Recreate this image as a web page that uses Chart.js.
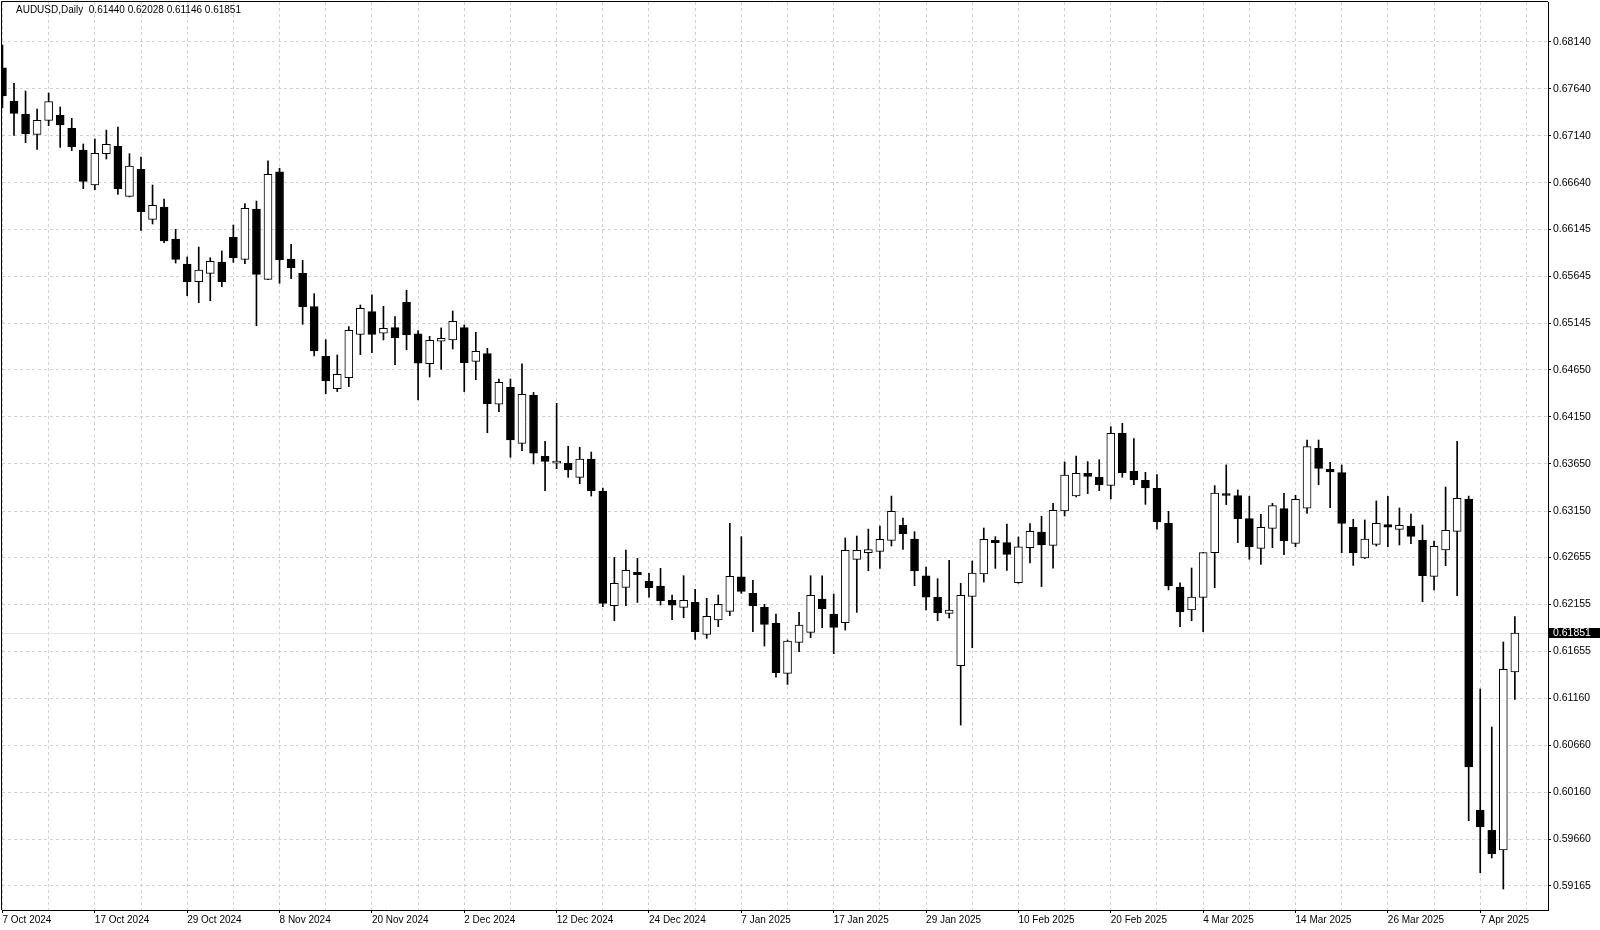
<!DOCTYPE html>
<html>
<head>
<meta charset="utf-8">
<title>AUDUSD, Daily</title>
<script src="https://cdn.jsdelivr.net/npm/chart.js@4.4.1/dist/chart.umd.min.js"></script>
<style>
    html, body { margin: 0; padding: 0; background: #fff; }
    #wrap { width: 1600px; height: 930px; }
</style>
</head>
<body>
<div id="wrap"><canvas id="chart" width="1600" height="930"></canvas></div>
<script>
// AUDUSD daily candles, 7 Oct 2024 - 10 Apr 2025
const symbol = "AUDUSD,Daily";

const dates = [
    "7 Oct 2024", "8 Oct 2024", "9 Oct 2024", "10 Oct 2024", "11 Oct 2024", "14 Oct 2024", "15 Oct 2024", "16 Oct 2024",
    "17 Oct 2024", "18 Oct 2024", "21 Oct 2024", "22 Oct 2024", "23 Oct 2024", "24 Oct 2024", "25 Oct 2024", "28 Oct 2024",
    "29 Oct 2024", "30 Oct 2024", "31 Oct 2024", "1 Nov 2024", "4 Nov 2024", "5 Nov 2024", "6 Nov 2024", "7 Nov 2024",
    "8 Nov 2024", "11 Nov 2024", "12 Nov 2024", "13 Nov 2024", "14 Nov 2024", "15 Nov 2024", "18 Nov 2024", "19 Nov 2024",
    "20 Nov 2024", "21 Nov 2024", "22 Nov 2024", "25 Nov 2024", "26 Nov 2024", "27 Nov 2024", "28 Nov 2024", "29 Nov 2024",
    "2 Dec 2024", "3 Dec 2024", "4 Dec 2024", "5 Dec 2024", "6 Dec 2024", "9 Dec 2024", "10 Dec 2024", "11 Dec 2024",
    "12 Dec 2024", "13 Dec 2024", "16 Dec 2024", "17 Dec 2024", "18 Dec 2024", "19 Dec 2024", "20 Dec 2024", "23 Dec 2024",
    "24 Dec 2024", "26 Dec 2024", "27 Dec 2024", "30 Dec 2024", "31 Dec 2024", "2 Jan 2025", "3 Jan 2025", "6 Jan 2025",
    "7 Jan 2025", "8 Jan 2025", "9 Jan 2025", "10 Jan 2025", "13 Jan 2025", "14 Jan 2025", "15 Jan 2025", "16 Jan 2025",
    "17 Jan 2025", "20 Jan 2025", "21 Jan 2025", "22 Jan 2025", "23 Jan 2025", "24 Jan 2025", "27 Jan 2025", "28 Jan 2025",
    "29 Jan 2025", "30 Jan 2025", "31 Jan 2025", "3 Feb 2025", "4 Feb 2025", "5 Feb 2025", "6 Feb 2025", "7 Feb 2025",
    "10 Feb 2025", "11 Feb 2025", "12 Feb 2025", "13 Feb 2025", "14 Feb 2025", "17 Feb 2025", "18 Feb 2025", "19 Feb 2025",
    "20 Feb 2025", "21 Feb 2025", "24 Feb 2025", "25 Feb 2025", "26 Feb 2025", "27 Feb 2025", "28 Feb 2025", "3 Mar 2025",
    "4 Mar 2025", "5 Mar 2025", "6 Mar 2025", "7 Mar 2025", "10 Mar 2025", "11 Mar 2025", "12 Mar 2025", "13 Mar 2025",
    "14 Mar 2025", "17 Mar 2025", "18 Mar 2025", "19 Mar 2025", "20 Mar 2025", "21 Mar 2025", "24 Mar 2025", "25 Mar 2025",
    "26 Mar 2025", "27 Mar 2025", "28 Mar 2025", "31 Mar 2025", "1 Apr 2025", "2 Apr 2025", "3 Apr 2025", "4 Apr 2025",
    "7 Apr 2025", "8 Apr 2025", "9 Apr 2025", "10 Apr 2025"
];

const open = [
    0.67864, 0.67510, 0.67368, 0.67155, 0.67304, 0.67357, 0.67219, 0.66989, 0.66617, 0.66950,
    0.67028, 0.66496, 0.66783, 0.66251, 0.66383, 0.66042, 0.65776, 0.65589, 0.65677, 0.65798,
    0.66060, 0.65826, 0.66361, 0.65614, 0.66756, 0.65830, 0.65678, 0.65324, 0.64795, 0.64451,
    0.64568, 0.65029, 0.65270, 0.65040, 0.65100, 0.65370, 0.65033, 0.64717, 0.64955, 0.64969,
    0.65100, 0.64742, 0.64824, 0.64285, 0.64466, 0.63870, 0.64381, 0.63731, 0.63660, 0.63657,
    0.63508, 0.63703, 0.63362, 0.62143, 0.62338, 0.62498, 0.62402, 0.62352, 0.62200, 0.62125,
    0.62178, 0.61838, 0.61991, 0.62083, 0.62451, 0.62274, 0.62125, 0.61955, 0.61423, 0.61753,
    0.61860, 0.62214, 0.62055, 0.61962, 0.62636, 0.62707, 0.62721, 0.62838, 0.62997, 0.62852,
    0.62462, 0.62232, 0.62062, 0.61505, 0.62242, 0.62480, 0.62838, 0.62813, 0.62388, 0.62761,
    0.62927, 0.62785, 0.63151, 0.63310, 0.63551, 0.63509, 0.63423, 0.63977, 0.63572, 0.63477,
    0.63392, 0.63019, 0.62342, 0.62098, 0.62232, 0.62707, 0.63335, 0.63314, 0.63069, 0.62753,
    0.62966, 0.63175, 0.62806, 0.63179, 0.63817, 0.63593, 0.63558, 0.62977, 0.62650, 0.62796,
    0.63005, 0.62955, 0.62991, 0.62838, 0.62455, 0.62735, 0.62934, 0.63278, 0.59970, 0.59754,
    0.59545, 0.61440
];

const high = [
    0.68106, 0.67698, 0.67616, 0.67425, 0.67595, 0.67446, 0.67326, 0.67053, 0.67106, 0.67201,
    0.67233, 0.66950, 0.66914, 0.66617, 0.66468, 0.66145, 0.65851, 0.65957, 0.65844, 0.65915,
    0.66191, 0.66418, 0.66446, 0.66873, 0.66795, 0.65986, 0.65816, 0.65462, 0.64972, 0.64809,
    0.65111, 0.65341, 0.65448, 0.65327, 0.65217, 0.65497, 0.65068, 0.65008, 0.65097, 0.65277,
    0.65129, 0.65050, 0.64880, 0.64554, 0.64554, 0.64714, 0.64412, 0.63891, 0.64295, 0.63838,
    0.63827, 0.63777, 0.63394, 0.62657, 0.62735, 0.62646, 0.62487, 0.62540, 0.62256, 0.62462,
    0.62317, 0.62221, 0.62256, 0.63019, 0.62877, 0.62412, 0.62157, 0.62055, 0.61778, 0.62072,
    0.62462, 0.62462, 0.62267, 0.62863, 0.62884, 0.62958, 0.62990, 0.63309, 0.63075, 0.62930,
    0.62554, 0.62430, 0.62625, 0.62381, 0.62618, 0.62969, 0.62877, 0.63012, 0.62874, 0.63016,
    0.63094, 0.63232, 0.63672, 0.63735, 0.63675, 0.63696, 0.64047, 0.64083, 0.63920, 0.63562,
    0.63537, 0.63147, 0.62385, 0.62544, 0.62710, 0.63420, 0.63640, 0.63374, 0.63307, 0.63115,
    0.63232, 0.63338, 0.63317, 0.63905, 0.63905, 0.63668, 0.63639, 0.63062, 0.63055, 0.63257,
    0.63306, 0.63182, 0.63118, 0.63001, 0.62831, 0.63405, 0.63891, 0.63310, 0.61257, 0.60853,
    0.61757, 0.62028
];

const low = [
    0.67436, 0.67145, 0.67067, 0.66996, 0.67248, 0.67017, 0.66982, 0.66578, 0.66567, 0.66893,
    0.66517, 0.66490, 0.66134, 0.66202, 0.66003, 0.65787, 0.65440, 0.65365, 0.65386, 0.65535,
    0.65794, 0.65780, 0.65121, 0.65610, 0.65572, 0.65621, 0.65136, 0.64799, 0.64398, 0.64420,
    0.64473, 0.64813, 0.64834, 0.64969, 0.64707, 0.64866, 0.64331, 0.64575, 0.64657, 0.64873,
    0.64420, 0.64547, 0.63983, 0.64207, 0.63721, 0.63792, 0.63650, 0.63366, 0.63600, 0.63508,
    0.63441, 0.63309, 0.62132, 0.61984, 0.62143, 0.62178, 0.62235, 0.62150, 0.61994, 0.62015,
    0.61785, 0.61796, 0.61920, 0.62037, 0.62274, 0.61866, 0.61714, 0.61384, 0.61306, 0.61654,
    0.61803, 0.61909, 0.61633, 0.61884, 0.62072, 0.62515, 0.62540, 0.62778, 0.62742, 0.62356,
    0.62097, 0.61984, 0.62012, 0.60874, 0.61696, 0.62395, 0.62540, 0.62519, 0.62381, 0.62597,
    0.62346, 0.62541, 0.63097, 0.63300, 0.63335, 0.63367, 0.63278, 0.63509, 0.63431, 0.63221,
    0.62956, 0.62310, 0.61920, 0.61984, 0.61867, 0.62335, 0.63218, 0.62814, 0.62637, 0.62583,
    0.62760, 0.62686, 0.62771, 0.63125, 0.63430, 0.63186, 0.62707, 0.62572, 0.62645, 0.62778,
    0.62771, 0.62789, 0.62803, 0.62186, 0.62310, 0.62569, 0.62250, 0.59857, 0.59304, 0.59460,
    0.59130, 0.61146
];

const close = [
    0.67563, 0.67379, 0.67162, 0.67304, 0.67503, 0.67255, 0.67024, 0.66656, 0.66953, 0.67049,
    0.66578, 0.66819, 0.66333, 0.66400, 0.66021, 0.65826, 0.65589, 0.65713, 0.65805, 0.65589,
    0.65844, 0.66368, 0.65667, 0.66731, 0.65820, 0.65738, 0.65324, 0.64852, 0.64533, 0.64604,
    0.65072, 0.65306, 0.65029, 0.65093, 0.64990, 0.65022, 0.64721, 0.64965, 0.64987, 0.65168,
    0.64728, 0.64849, 0.64292, 0.64519, 0.63906, 0.64391, 0.63764, 0.63678, 0.63682, 0.63586,
    0.63703, 0.63366, 0.62168, 0.62381, 0.62519, 0.62473, 0.62334, 0.62196, 0.62150, 0.62200,
    0.61866, 0.62030, 0.62157, 0.62455, 0.62295, 0.62143, 0.61945, 0.61431, 0.61767, 0.61938,
    0.62253, 0.62111, 0.61913, 0.62732, 0.62732, 0.62740, 0.62849, 0.63146, 0.62909, 0.62512,
    0.62235, 0.62069, 0.62097, 0.62253, 0.62491, 0.62849, 0.62813, 0.62689, 0.62768, 0.62934,
    0.62789, 0.63158, 0.63533, 0.63551, 0.63519, 0.63431, 0.63977, 0.63558, 0.63480, 0.63395,
    0.63034, 0.62353, 0.62076, 0.62236, 0.62707, 0.63342, 0.63317, 0.63069, 0.62771, 0.62977,
    0.63207, 0.62835, 0.63274, 0.63834, 0.63604, 0.63565, 0.63019, 0.62707, 0.62852, 0.63019,
    0.62977, 0.62998, 0.62881, 0.62462, 0.62774, 0.62945, 0.63285, 0.60428, 0.59790, 0.59506,
    0.61466, 0.61851
];

// price scale labels as printed by the terminal
const yTicks = [
    0.68140, 0.67640, 0.67140, 0.66640, 0.66145, 0.65645, 0.65145, 0.64650, 0.64150, 0.63650,
    0.63150, 0.62655, 0.62155, 0.61655, 0.61160, 0.60660, 0.60160, 0.59660, 0.59165
];
const labelEvery = 8;   // a date label every 8 bars
const gridEvery = 4;    // a vertical grid line every 4 bars

const fontName = "'Liberation Sans', Arial, sans-serif";
const last = close.length - 1;

// header text, current price line and price tag, outer frame
const terminalDecor = {
    id: "terminalDecor",
    beforeDatasetsDraw(chart) {
        const { ctx, chartArea: a, scales } = chart;
        const y = Math.round(scales.y.getPixelForValue(close[last])) + 0.5;
        ctx.save();
        ctx.strokeStyle = "#e3e3e3";
        ctx.lineWidth = 1;
        ctx.beginPath();
        ctx.moveTo(a.left, y);
        ctx.lineTo(a.right, y);
        ctx.stroke();
        ctx.restore();
    },
    afterDraw(chart) {
        const { ctx, chartArea: a, scales } = chart;
        ctx.save();
        // frame (left + top; right and bottom come from the axes)
        ctx.strokeStyle = "#000";
        ctx.lineWidth = 1;
        ctx.beginPath();
        ctx.moveTo(a.left - 0.5, a.bottom);
        ctx.lineTo(a.left - 0.5, a.top - 0.5);
        ctx.lineTo(a.right, a.top - 0.5);
        ctx.stroke();

        // header
        ctx.fillStyle = "#000";
        ctx.font = "10px " + fontName;
        ctx.textBaseline = "middle";
        ctx.textAlign = "left";
        const hdr = symbol + "  " + [open[last], high[last], low[last], close[last]].map(v => v.toFixed(5)).join(" ");
        ctx.fillText(hdr, 16, 10);

        // price tag on the axis
        const py = Math.round(scales.y.getPixelForValue(close[last]));
        ctx.fillStyle = "#000";
        ctx.fillRect(a.right + 1, py - 5, 1600 - a.right - 1, 10);
        ctx.fillStyle = "#fff";
        ctx.font = "10.5px " + fontName;
        ctx.fillText(close[last].toFixed(5), a.right + 5, py + 0.5);
        ctx.restore();
    }
};

const bodies = open.map((o, i) => ({ x: i, y: [o, close[i]] }));
const wicks = low.map((l, i) => ({ x: i, y: [l, high[i]] }));

new Chart(document.getElementById("chart"), {
    type: "bar",
    data: {
        datasets: [
            {
                label: "body",
                data: bodies,
                backgroundColor: open.map((o, i) => close[i] >= o ? "#ffffff" : "#000000"),
                borderColor: "#000",
                borderWidth: 1,
                borderSkipped: false,
                barThickness: 8,
                grouped: false,
                order: 0
            },
            {
                label: "wick",
                data: wicks,
                backgroundColor: "#000",
                borderWidth: 0,
                barThickness: 1,
                grouped: false,
                order: 1
            }
        ]
    },
    options: {
        responsive: false,
        animation: false,
        devicePixelRatio: 1,
        events: [],
        layout: { padding: { left: 2, top: 2, right: 0, bottom: 0 } },
        plugins: {
            legend: { display: false },
            tooltip: { enabled: false }
        },
        scales: {
            x: {
                type: "linear",
                position: "bottom",
                offset: false,
                min: -0.04,
                max: 133.87,
                afterFit: s => {
                    s.height = 20;
                    s.paddingLeft = 0;
                    s.paddingRight = 0;
                },
                afterBuildTicks: s => {
                    const t = [];
                    for (let i = 0; i < dates.length + 1; i += gridEvery) t.push({ value: i });
                    s.ticks = t;
                },
                ticks: {
                    autoSkip: false,
                    maxRotation: 0,
                    align: "start",
                    padding: 1,
                    color: "#000",
                    font: { family: fontName, size: 10 },
                    callback: v => (v % labelEvery === 0 && dates[v]) ? dates[v] : ""
                },
                grid: {
                    offset: false,
                    color: "#d2d2d2",
                    tickLength: 3,
                    tickColor: c => (c.tick && c.tick.value % labelEvery === 0) ? "#000" : "rgba(0,0,0,0)"
                },
                border: { display: true, color: "#000", width: 1, dash: [3, 3] }
            },
            y: {
                type: "linear",
                position: "right",
                min: 0.58907,
                max: 0.68563,
                afterFit: s => {
                    s.width = 52;
                    s.paddingTop = 0;
                    s.paddingBottom = 0;
                },
                afterBuildTicks: s => { s.ticks = yTicks.map(v => ({ value: v })); },
                ticks: {
                    padding: 2,
                    color: "#000",
                    font: { family: fontName, size: 10.5 },
                    callback: v => Number(v).toFixed(5)
                },
                grid: {
                    color: "#d2d2d2",
                    tickLength: 3,
                    tickColor: "#000"
                },
                border: { display: true, color: "#000", width: 1, dash: [3, 3] }
            }
        }
    },
    plugins: [terminalDecor]
});
</script>
</body>
</html>
